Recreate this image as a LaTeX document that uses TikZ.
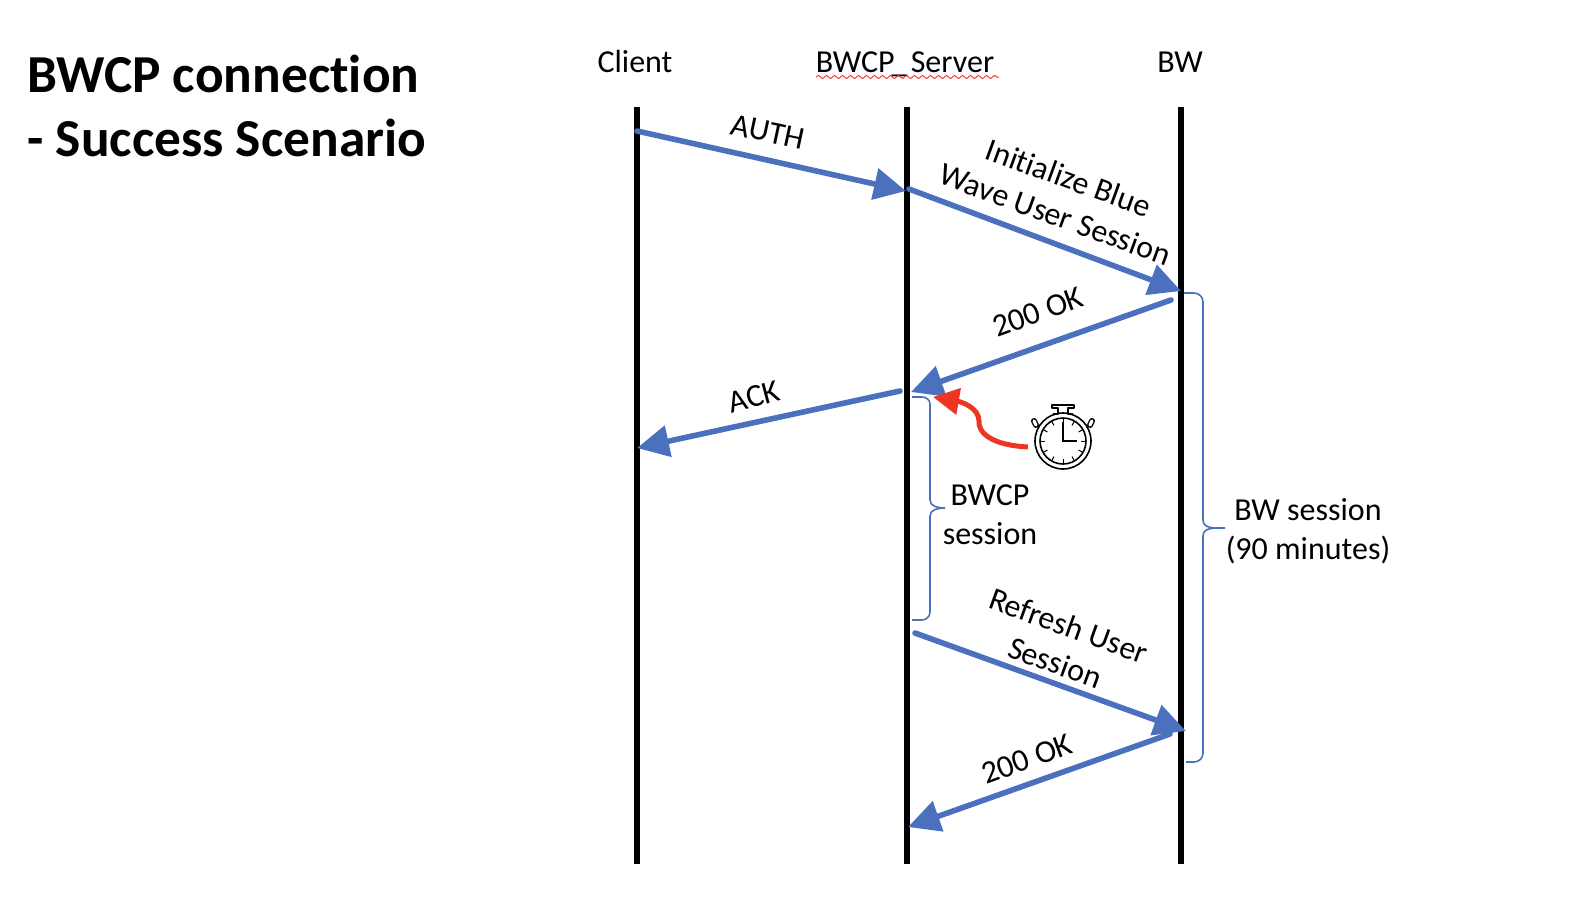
\documentclass[tikz,border=0pt]{standalone}
\usepackage{fontspec}
\setmainfont{Carlito}[Ligatures=CommonOff]
\usetikzlibrary{arrows.meta,decorations.pathmorphing}
\definecolor{msgblue}{HTML}{4A70BE}
\definecolor{timerred}{HTML}{EE3524}
\begin{document}
\begin{tikzpicture}[
        x=0.5pt, y=-0.5pt,
        lifeline/.style={line width=3pt, black},
        msg/.style={-{Triangle[length=16pt, width=15.5pt]}, line width=2.8pt, msgblue, line cap=round},
        span/.style={line width=0.8pt, msgblue},
        label/.style={font=\fontsize{16}{19.4}\selectfont, align=center, inner sep=0pt},
        heading/.style={font=\fontsize{26.7}{32}\selectfont\bfseries, align=left, anchor=north west, inner sep=0pt}
    ]
    \useasboundingbox (0,0) rectangle (1592,900);

    % Title
    \node[heading] (title) at (27,55) {BWCP connection\\- Success Scenario};

    % Lifeline names
    \node[label] (client) at (635,62) {Client};
    \node[label] (server) at (905,64) {BWCP\kern-1.5pt\_\kern-2pt\ Server};
    \node[label] (bw) at (1180,62) {BW};
    \draw[red!80, line width=0.5pt, decorate, decoration={snake, amplitude=0.8pt, segment length=4pt}]
        (816,77) -- (999,77);

    % Lifelines
    \coordinate (clientTop) at (637,107);
    \coordinate (clientEnd) at (637,864);
    \coordinate (serverTop) at (907,107);
    \coordinate (serverEnd) at (907,864);
    \coordinate (bwTop) at (1181,107);
    \coordinate (bwEnd) at (1181,864);
    \draw[lifeline] (clientTop) -- (clientEnd);
    \draw[lifeline] (serverTop) -- (serverEnd);
    \draw[lifeline] (bwTop) -- (bwEnd);

    % Messages
    \coordinate (m1a) at (637,131);
    \coordinate (m1b) at (906,191);
    \coordinate (m2a) at (909,189);
    \coordinate (m2b) at (1181,291);
    \coordinate (m3a) at (1171,300);
    \coordinate (m3b) at (911,392);
    \coordinate (m4a) at (900,391);
    \coordinate (m4b) at (637,448);
    \coordinate (m5a) at (915,633);
    \coordinate (m5b) at (1186,731);
    \coordinate (m6a) at (1170,734);
    \coordinate (m6b) at (908,827);
    \draw[msg] (m1a) -- (m1b);
    \draw[msg] (m2a) -- (m2b);
    \draw[msg] (m3a) -- (m3b);
    \draw[msg] (m4a) -- (m4b);
    \draw[msg] (m5a) -- (m5b);
    \draw[msg] (m6a) -- (m6b);

    % Message labels
    \node[label, rotate=-12] (auth) at (768,132) {AUTH};
    \node[label, rotate=-20] (init) at (1062,196) {Initialize Blue\\Wave User Session};
    \node[label, rotate=20] (ok1) at (1038,312) {200 OK};
    \node[label, rotate=15] (ack) at (754,397) {ACK};
    \node[label, rotate=-20] (refresh) at (1062,644) {Refresh User\\Session};
    \node[label, rotate=20] (ok2) at (1027,759) {200 OK};

    % Session brackets
    \coordinate (s1a) at (912,397);
    \coordinate (s1b) at (912,620);
    \coordinate (s1tip) at (945,508);
    \coordinate (s2a) at (1184,293);
    \coordinate (s2b) at (1186,762);
    \coordinate (s2tip) at (1225,528);
    \draw[span] (s1a) -- (922,397) to[out=0, in=90] (930,404) -- (930,500) to[out=-90, in=180] (s1tip)
        to[out=180, in=90] (930,516) -- (930,612) to[out=-90, in=0] (922,620) -- (s1b);
    \draw[span] (s2a) -- (1194,293) to[out=0, in=90] (1203,302) -- (1203,520) to[out=-90, in=180] (s2tip)
        to[out=180, in=90] (1203,536) -- (1203,753) to[out=-90, in=0] (1194,762) -- (s2b);
    \node[label] (bwcpSession) at (990,515) {BWCP\\session};
    \node[label] (bwSession) at (1308,531) {BW session\\(90 minutes)};

    % Timer
    \coordinate (timer) at (1063,441);
    \coordinate (timerOut) at (1028,447);
    \coordinate (timerIn) at (933,397);
    \draw[line width=0.8pt] (timer) circle (28);
    \draw[line width=0.8pt] (timer) circle (23);
    \draw[line width=0.8pt, line join=round] (1053,414) -- (1058,414) -- (1058,408) -- (1052,408) -- (1052,405) -- (1074,405) -- (1074,408) -- (1068,408) -- (1068,414) -- (1073,414);
    \draw[line width=3pt, line cap=round] (1036,425) -- (1034,421) (1090,425) -- (1092,421);
    \draw[white, line width=1.6pt, line cap=round] (1036,425) -- (1034,421) (1090,425) -- (1092,421);
    \draw[line width=0.8pt] (1063,422) -- (timer) -- (1077,441);
    \foreach \a in {0,30,...,330}
        \draw[line width=0.5pt] (timer) ++(\a:18) -- ++(\a:5);
    \draw[-{Triangle[length=13pt, width=13pt]}, line width=2.5pt, timerred]
        (timerOut) .. controls (990,445) and (978,432) .. (979,421) .. controls (979,408) and (962,402) .. (timerIn);

\end{tikzpicture}
\end{document}
